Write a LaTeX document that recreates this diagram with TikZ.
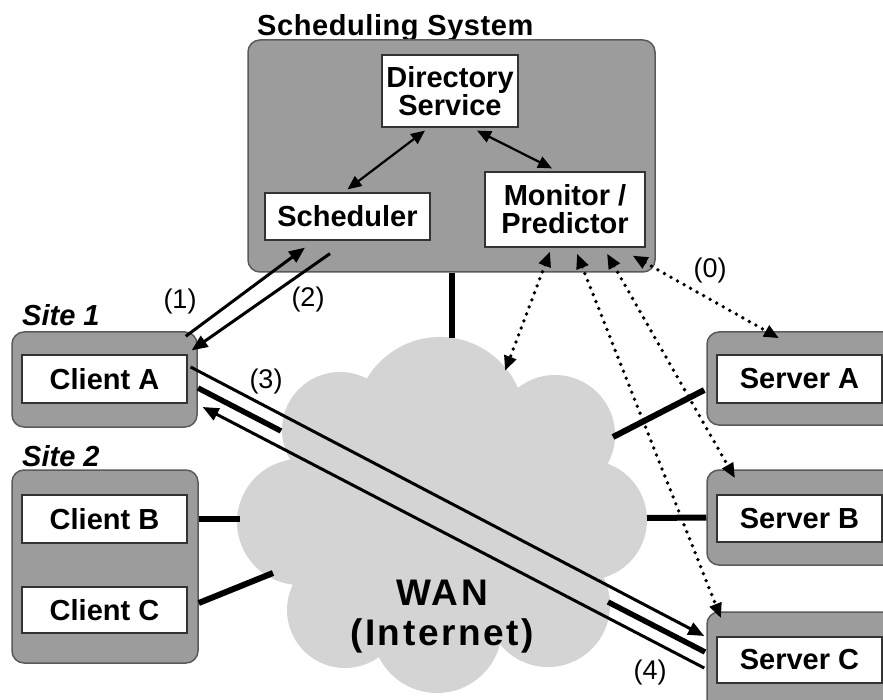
\documentclass[tikz,border=0pt]{standalone}
\usepackage{fontspec}
\setmainfont{Liberation Sans}
\usetikzlibrary{arrows.meta,calc}
\definecolor{boxgray}{HTML}{9C9C9C}
\definecolor{boxedge}{HTML}{5A5A5A}
\definecolor{cloudgray}{HTML}{D4D4D4}
\newcommand\mylbl{\fontsize{29}{28}\selectfont\bfseries}
\newcommand\myttl{\fontsize{29}{28}\selectfont\bfseries\addfontfeature{LetterSpace=2}}
\newcommand\mynum{\fontsize{27}{28}\selectfont}
\newcommand\mysite{\fontsize{29}{30}\selectfont\bfseries\itshape}
\newcommand\mywan{\fontsize{37}{40}\selectfont\bfseries\addfontfeature{LetterSpace=7}}
\tikzset{
 outerbox/.style={draw=boxedge, line width=1.5pt, fill=boxgray, rounded corners=12pt, inner sep=0pt},
 innerbox/.style={draw=black!80, line width=1.2pt, fill=white, inner sep=0pt, align=center, font=\mylbl},
 conn/.style={line width=6pt},
 flow/.style={line width=3pt, -{Triangle[length=16pt,width=13pt]}},
 bar/.style={line width=5.5pt},
 dual/.style={line width=2.2pt, {Triangle[length=14pt,width=12pt]}-{Triangle[length=14pt,width=12pt]}},
 dots/.style={line width=3.8pt, dash pattern=on 0pt off 7.5pt, line cap=round, {Triangle[length=15pt,width=12pt]}-{Triangle[length=15pt,width=12pt]}},
 stepnum/.style={font=\mynum, inner sep=0pt},
 titletext/.style={font=\myttl, inner sep=0pt, anchor=base west},
 sitetext/.style={font=\mysite, inner sep=0pt, anchor=base west},
}
\begin{document}
\begin{tikzpicture}[x=1pt,y=-1pt]
\useasboundingbox (0,0) rectangle (883,700);
\fill[white] (0,0) rectangle (883,700);
\clip (0,0) rectangle (883,700);

% WAN cloud
\fill[cloudgray] (440,422) circle[radius=85]
  (340,430) circle[radius=58]
  (555,435) circle[radius=60]
  (300,522) circle[radius=63]
  (587,520) circle[radius=60]
  (345,610) circle[radius=58]
  (437,628) circle[radius=65]
  (548,605) circle[radius=62]
  (440,515) circle[radius=140];
\node[font=\mywan, align=center, inner sep=0pt] (wan) at (442,617) {WAN\\(Internet)};
\coordinate (wN) at (451.5,338);
\coordinate (wB) at (240,519);
\coordinate (wC) at (273,573);
\coordinate (wSA) at (613,437);
\coordinate (wSB) at (647,518);
\coordinate (wM) at (505,371);

% Scheduling system
\node[titletext] (ttl) at (257,36) {Scheduling System};
\node[outerbox, minimum width=407pt, minimum height=232pt] (sys) at (451.5,156) {};
\node[innerbox, minimum width=136pt, minimum height=72pt] (dir) at (450,91) {Directory\\Service};
\node[innerbox, minimum width=165pt, minimum height=47pt] (sch) at (347.5,216.5) {Scheduler};
\node[innerbox, minimum width=160pt, minimum height=75pt] (mon) at (565,209.5) {Monitor /\\Predictor};

% Sites
\node[sitetext] (s1) at (22,326) {Site 1};
\node[outerbox, minimum width=185pt, minimum height=95pt] (siteA) at (104.5,379.5) {};
\node[innerbox, minimum width=165pt, minimum height=48pt] (cliA) at (104.5,379) {Client A};
\node[sitetext] (s2) at (22,466) {Site 2};
\node[outerbox, minimum width=186pt, minimum height=193pt] (site2) at (105,566.5) {};
\node[innerbox, minimum width=165pt, minimum height=48pt] (cliB) at (104.5,519) {Client B};
\node[innerbox, minimum width=165pt, minimum height=46pt] (cliC) at (104.5,610) {Client C};

% Servers
\node[outerbox, minimum width=190pt, minimum height=93pt] (srvAo) at (802,378.5) {};
\node[innerbox, minimum width=165pt, minimum height=48pt] (srvA) at (799.5,379) {Server A};
\node[outerbox, minimum width=190pt, minimum height=95pt] (srvBo) at (802,517.5) {};
\node[innerbox, minimum width=165pt, minimum height=47pt] (srvB) at (799.5,518.5) {Server B};
\node[outerbox, minimum width=190pt, minimum height=108pt] (srvCo) at (802,666) {};
\node[innerbox, minimum width=165pt, minimum height=46pt] (srvC) at (799.5,660) {Server C};

% network links
\draw[conn] (sys.south) -- (wN);
\draw[conn] (cliB.east -| site2.east) -- (wB);
\draw[conn] ($(site2.east)+(0,36.5)$) -- (wC);
\draw[conn] ($(srvAo.west)+(-2,11.5)$) -- (wSA);
\draw[conn] (srvBo.west) -- (wSB);

% directory arrows
\draw[dual] ($(dir.south)+(-25,3)$) -- ($(sch.north)+(0,-3)$);
\draw[dual] ($(dir.south)+(27,3)$) -- ($(mon.north)+(-13,-3)$);

% (1) and (2)
\draw[flow] ($(siteA.north east)+(-12,5)$) -- ($(sch.south)+(-42.5,7)$);
\draw[flow] ($(sch.south)+(-17.5,13)$) -- ($(cliA.north east)+(4,-4)$);

% (3) and (4)
\draw[flow] ($(cliA.east)+(3,-12)$) -- ($(srvCo.west)+(-2,-30)$);
\draw[flow] ($(srvCo.west)+(-2,2)$) -- ($(cliA.east)+(15,28)$);
\coordinate (b1s) at (198,388);
\coordinate (b1e) at (281,431);
\coordinate (b2s) at (608,602);
\coordinate (b2e) at (705,652);
\draw[bar] (b1s) -- (b1e);
\draw[bar] (b2s) -- (b2e);

% monitoring (dotted)
\draw[dots] ($(mon.south)+(-15,4)$) -- (wM);
\draw[dots] ($(mon.south)+(12,6)$) -- ($(srvCo.north)+(-81,7)$);
\draw[dots] ($(mon.south)+(42,6)$) -- ($(srvBo.north)+(-67,9)$);
\draw[dots] ($(mon.south east)+(-13,8)$) -- ($(srvAo.north)+(-23,7)$);

% step labels
\node[stepnum] (n1) at (180,302) {(1)};
\node[stepnum] (n2) at (308,300) {(2)};
\node[stepnum] (n3) at (266,382) {(3)};
\node[stepnum] (n0) at (710,271) {(0)};
\node[stepnum] (n4) at (650,673) {(4)};
\end{tikzpicture}
\end{document}
